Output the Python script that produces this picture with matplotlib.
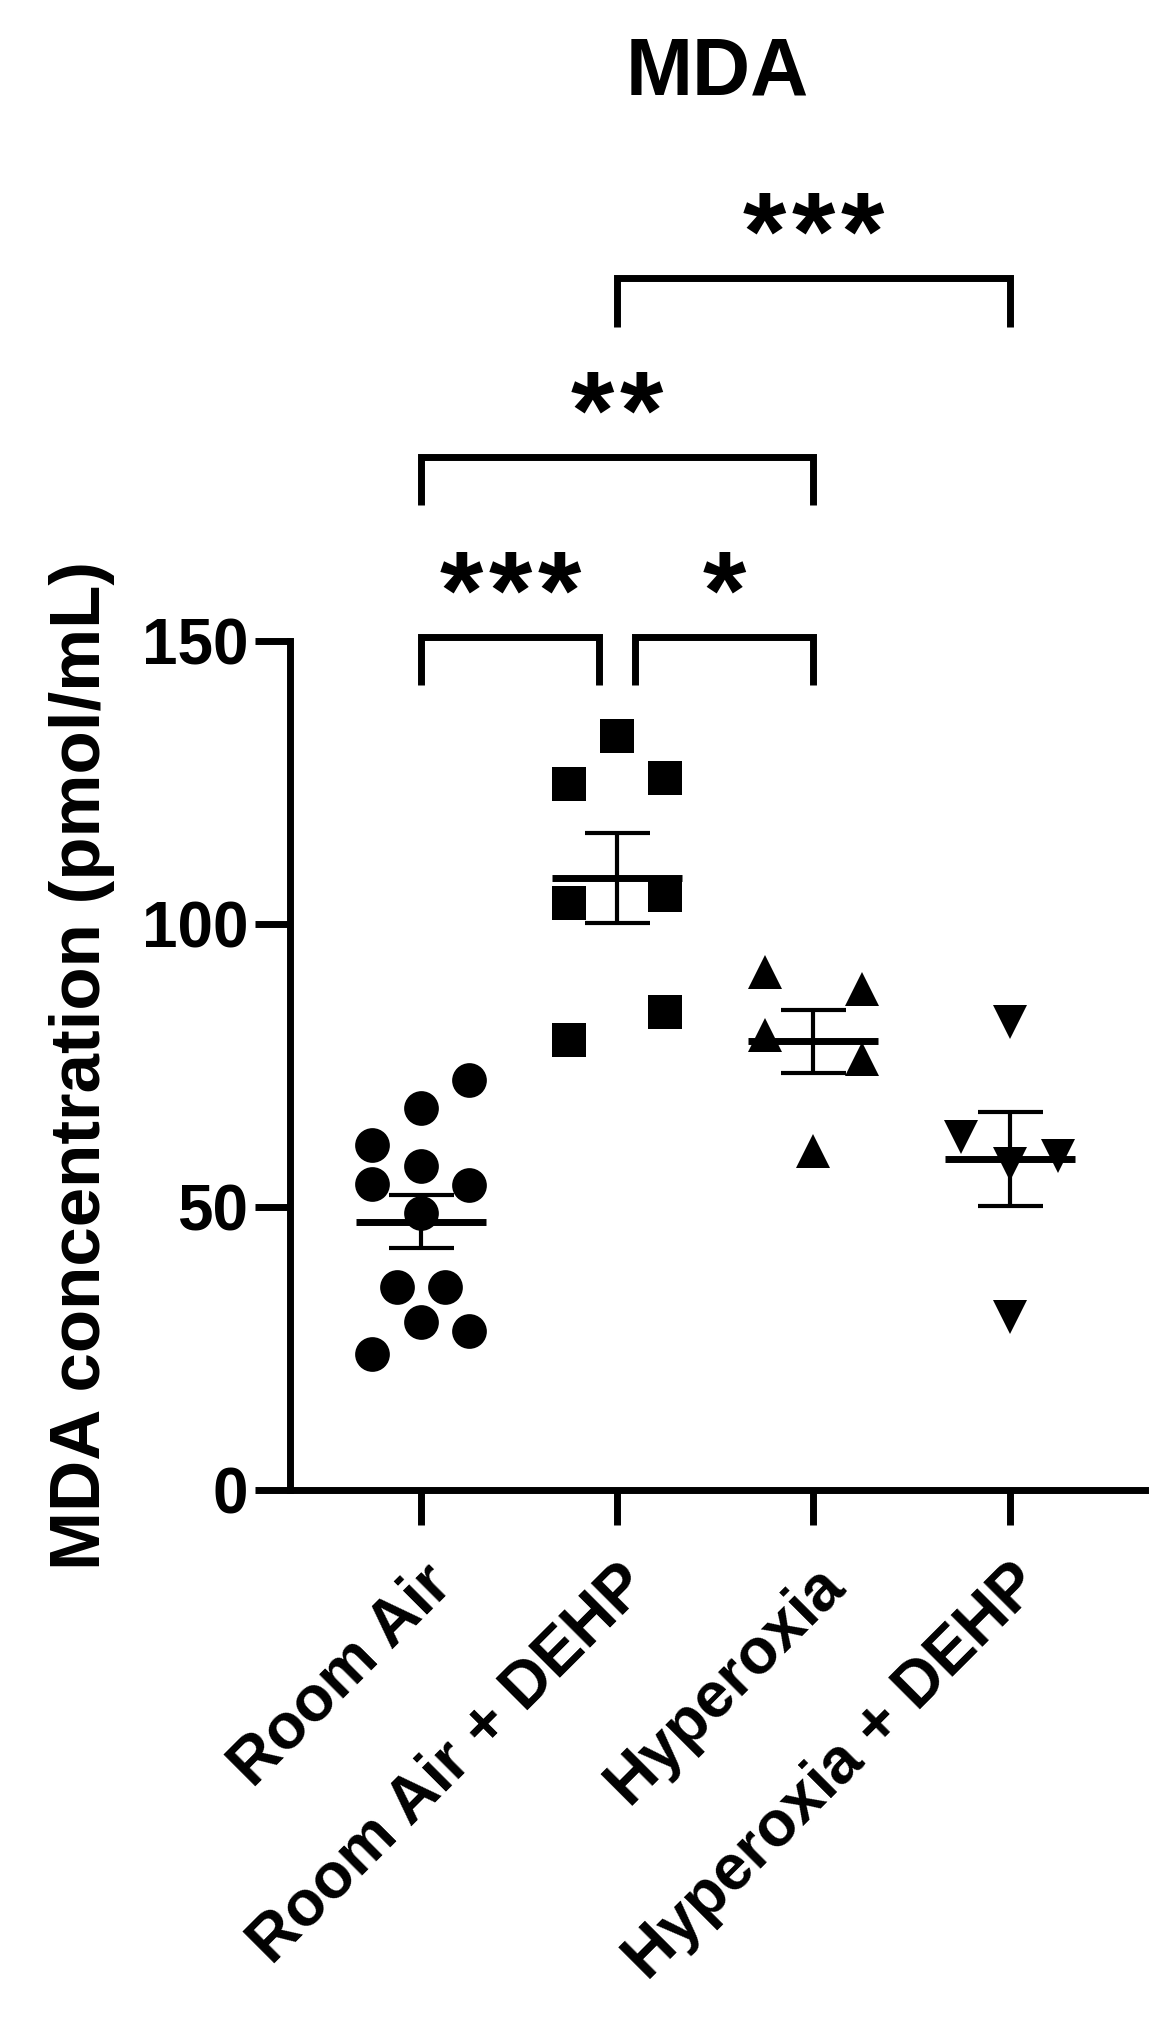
import matplotlib
import matplotlib.pyplot as plt
import matplotlib.transforms as mtransforms
import numpy as np

matplotlib.use('Agg')

plt.rcParams['font.family'] = ['Liberation Sans', 'DejaVu Sans']
plt.rcParams['font.weight'] = 'bold'

groups = ['Room Air', 'Room Air + DEHP', 'Hyperoxia', 'Hyperoxia + DEHP']

# MDA (pmol/mL), one value per animal
room_air = [72.4, 67.4, 60.9, 57.2, 54.0, 53.9, 49.0, 35.9, 35.8, 29.6, 28.1, 24.1]
room_air_dehp = [133.2, 124.7, 125.7, 103.7, 105.1, 79.5, 84.5]
hyperoxia = [91.5, 88.4, 80.4, 76.2, 59.8]
hyperoxia_dehp = [82.6, 62.3, 57.5, 59.0, 30.6]

# horizontal slot of each point in the column scatter (-2 .. 2)
room_air_slots = [2, 0, -2, 0, -2, 2, 0, -1, 1, 0, 2, -2]
room_air_dehp_slots = [0, -2, 2, -2, 2, -2, 2]
hyperoxia_slots = [-2, 2, -2, 2, 0]
hyperoxia_dehp_slots = [0, -2, 0, 2, 0]

# significance brackets: (group a, group b, label, bracket height)
comparisons = [
    (0, 1, '***', 150.7),
    (1, 2, '*', 150.7),
    (0, 2, '**', 182.5),
    (1, 3, '***', 214.0),
]

values = [room_air, room_air_dehp, hyperoxia, hyperoxia_dehp]
slots = [room_air_slots, room_air_dehp_slots, hyperoxia_slots, hyperoxia_dehp_slots]
markers = ['o', 's', '^', 'v']
msizes = [25, 25, 24, 24]

slot_w = 0.123
mean_hw = 0.331
leg = 8.6
gap = 0.09
star_step = 35.3  # points between asterisk centres

fig = plt.figure(figsize=(11.73, 20.25), dpi=100)
ax = fig.add_axes([0.2472, 0.2642, 0.7289, 0.4194])

for i, (vals, sl) in enumerate(zip(values, slots)):
    vals = np.array(vals)
    xs = i + np.array(sl) * slot_w
    ax.plot(xs, vals, linestyle='none', marker=markers[i], markersize=msizes[i],
            markeredgewidth=0, color='black', clip_on=False, zorder=3)
    m = vals.mean()
    sem = vals.std(ddof=1) / np.sqrt(len(vals))
    ax.hlines(m, i - mean_hw, i + mean_hw, color='black', linewidth=5, zorder=4)
    ax.errorbar(i, m, yerr=sem, fmt='none', ecolor='black', elinewidth=3,
                capsize=23.4, capthick=3, zorder=4)

for a, b, label, h in comparisons:
    x0, x1 = a, b
    # brackets on the same level that share a group are pulled apart
    for a2, b2, _, h2 in comparisons:
        if h2 == h and (a2, b2) != (a, b):
            if b2 == a:
                x0 = a + gap
            if a2 == b:
                x1 = b - gap
    ax.plot([x0, x0, x1, x1], [h - leg, h, h, h - leg], color='black',
            linewidth=5, solid_joinstyle='miter', solid_capstyle='butt', clip_on=False)
    n = len(label)
    for k, ch in enumerate(label):
        tr = mtransforms.offset_copy(ax.transData, fig=fig,
                                     x=(k - (n - 1) / 2) * star_step, units='points')
        ax.text((x0 + x1) / 2, h + 6.6, ch, transform=tr, ha='center', va='center',
                fontsize=80, fontweight='bold', clip_on=False)

ax.set_xlim(-0.666, 3.69)
ax.set_ylim(0, 150)
ax.set_yticks([0, 50, 100, 150])
ax.set_xticks(range(4))
ax.set_xticklabels(groups, rotation=45, ha='right', va='top', rotation_mode='anchor',
                   fontsize=46, fontweight='bold')
ax.tick_params(axis='y', labelsize=46, length=25, width=5, pad=5)
ax.tick_params(axis='x', length=25, width=5, pad=21)

for side in ['top', 'right']:
    ax.spines[side].set_visible(False)
for side in ['left', 'bottom']:
    ax.spines[side].set_linewidth(5)

ax.set_ylabel('MDA concentration (pmol/mL)', fontsize=51, fontweight='bold')
ax.yaxis.set_label_coords(-0.205, 0.5)

fig.text(717.5 / 1173, 1 - 94.3 / 2025, 'MDA', ha='center', va='baseline',
         fontsize=58, fontweight='bold')

fig.savefig('out.png', dpi=100)
